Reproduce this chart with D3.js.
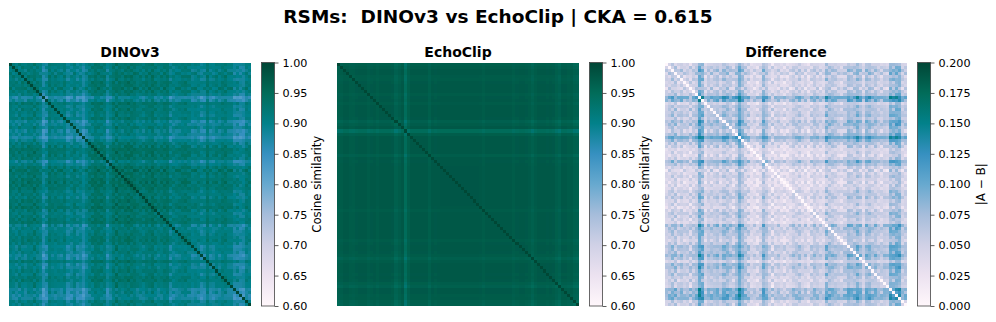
<!DOCTYPE html>
<html><head><meta charset="utf-8">
<script src="https://cdn.jsdelivr.net/npm/d3@7"></script>
<style>html,body{margin:0;padding:0;background:#fff}svg{display:block}
text{font-family:"DejaVu Sans";fill:#000;white-space:pre}</style></head><body>
<svg id="c" width="996" height="322"></svg>
<script>
const figureTitle = "RSMs:  DINOv3 vs EchoClip | CKA = 0.615";
const panelTitles = ["DINOv3","EchoClip","Difference"];
const barLabels = ["Cosine similarity","Cosine similarity","|A − B|"];
const simTicks = [0.60,0.65,0.70,0.75,0.80,0.85,0.90,0.95,1.00];
const diffTicks = [0,0.025,0.05,0.075,0.1,0.125,0.15,0.175,0.2];
// per-item dissimilarity profiles
const dinoProfile = [.275,.305,.305,.29,.27,.3,.275,.27,.26,.275,.325,.42,.375,.27,.29,.305,.29,.305,.29,.375,
.36,.29,.365,.36,.415,.335,.3,.27,.23,.23,.25,.265,.35,.315,.24,.225,.24,.25,.24,.225,
.24,.225,.265,.28,.28,.25,.24,.225,.265,.28,.28,.24,.245,.34,.325,.3,.285,.285,.27,.3,
.33,.305,.33,.375,.345,.27,.33,.345,.305,.305,.275,.285,.305,.305,.395,.36,.415,.395,.305,.335];
const echoProfile = [.2,.18,.155,.155,.175,.18,.165,.155,.155,.155,.18,.165,.155,.175,.155,.155,.155,.155,.165,.23,
.19,.155,.33,.2,.155,.155,.155,.155,.155,.155,.2,.155,.165,.155,.15,.15,.15,.15,.15,.15,
.15,.15,.15,.15,.15,.15,.15,.155,.175,.155,.155,.155,.155,.155,.155,.155,.155,.155,.18,.165,
.155,.155,.165,.175,.22,.175,.155,.155,.155,.165,.155,.165,.2,.23,.165,.165,.18,.175,.22,.23];
// finer item-to-item variation in the DINOv3 panel, estimated by eye
const dinoDetailA = [.08,-.1,.11,-.05,.09,.12,-.08,.04,-.11,.1,-.06,.07,.12,-.09,.05,-.12,.08,.1,-.04,.09,
-.11,.06,.12,-.07,.03,.1,-.12,.08,-.05,.11,.06,-.09,.12,-.03,.09,-.1,.05,.11,-.08,.07,
-.12,.1,.04,-.09,.12,-.06,.08,-.11,.1,.05,-.08,.12,-.04,.09,-.1,.07,.11,-.06,.03,-.12,
.1,.08,-.09,.05,.12,-.07,.11,-.03,-.1,.09,.06,-.12,.08,.1,-.05,.12,-.08,.04,.11,-.09];
const dinoDetailB = [-.06,.09,.05,-.11,.08,-.04,.12,.07,-.09,.03,.1,-.12,.06,.09,-.07,.11,-.03,-.1,.12,.05,
.08,-.11,.04,.1,-.06,-.09,.07,.12,.03,-.08,.11,.06,-.1,.09,.04,-.12,.08,-.05,.1,.12,
.06,-.07,-.11,.09,.03,.1,-.12,.05,.07,-.09,.11,-.06,.08,.12,.04,-.1,-.03,.09,.11,.06,
-.08,-.12,.07,.1,-.05,.09,-.04,.12,.08,-.11,.03,.1,-.07,-.09,.12,.05,.06,-.1,-.04,.08];
const cpStops = ["#fff7fb","#ece2f0","#d0d1e6","#a6bddb","#67a9cf","#3690c0","#02818a","#016c59","#014636"];

const indices = d3.range(dinoProfile.length);
const A = (i,j)=> i===j ? 1 : 1 - dinoProfile[i]*dinoProfile[j]
   - dinoDetailA[i]*dinoDetailA[j] + dinoDetailB[i]*dinoDetailB[j];
const B = (i,j)=> i===j ? 1 : 1 - echoProfile[i]*echoProfile[j];
const panels = [
 {x:9, w:242, val:A, dom:[0.6,1], ticks:simTicks, fmt:d3.format(".2f"), barX:261.5},
 {x:337,w:242, val:B, dom:[0.6,1], ticks:simTicks, fmt:d3.format(".2f"), barX:589.5},
 {x:665,w:242, val:(i,j)=>Math.abs(A(i,j)-B(i,j)), dom:[0,0.2], ticks:diffTicks, fmt:d3.format(".3f"), barX:917.5},
];
const plotTop=62.5, plotBottom=306, barW=13;
const svg=d3.select("#c");
svg.append("text").attr("x",498).attr("y",23).attr("text-anchor","middle")
  .style("font-size","18.5px").style("font-weight","bold").text(figureTitle);
const defs=svg.append("defs");
const f=defs.append("filter").attr("id","soft").attr("x","-1%").attr("y","-1%").attr("width","102%").attr("height","102%");
f.append("feGaussianBlur").attr("stdDeviation",0.65);
panels.forEach((p,k)=>{
  const g=svg.append("g").attr("filter","url(#soft)");
  const xs=d3.scaleBand().domain(indices).range([p.x,p.x+p.w]);
  const ys=d3.scaleBand().domain(indices).range([plotTop,plotBottom]);
  const color=d3.scaleLinear().domain(d3.range(9).map(t=>p.dom[0]+(p.dom[1]-p.dom[0])*t/8)).range(cpStops).clamp(true);
  const cells=indices.flatMap(i=>indices.map(j=>({i,j})));
  g.selectAll("rect").data(cells).join("rect")
    .attr("x",d=>xs(d.j)).attr("y",d=>ys(d.i))
    .attr("width",xs.bandwidth()+.4).attr("height",ys.bandwidth()+.4)
    .attr("shape-rendering","crispEdges")
    .attr("fill",d=>color(p.val(d.i,d.j)));
  svg.append("text").attr("x",p.x+p.w/2).attr("y",56.5).attr("text-anchor","middle")
    .style("font-size","14px").style("font-weight","bold").text(panelTitles[k]);
  const gid="grad"+k;
  const lg=defs.append("linearGradient").attr("id",gid).attr("x1",0).attr("x2",0).attr("y1",1).attr("y2",0);
  cpStops.forEach((c,t)=>lg.append("stop").attr("offset",t/8).attr("stop-color",c));
  svg.append("rect").attr("x",p.barX).attr("y",plotTop).attr("width",barW).attr("height",plotBottom-plotTop)
    .attr("fill",`url(#${gid})`).attr("stroke","#444").attr("stroke-width",.8);
  const sc=d3.scaleLinear().domain(p.dom).range([plotBottom,plotTop]);
  const ax=svg.append("g").attr("transform",`translate(${p.barX+barW},0)`)
    .call(d3.axisRight(sc).tickValues(p.ticks).tickFormat(p.fmt).tickSize(4).tickPadding(4));
  ax.select(".domain").remove();
  ax.selectAll("line").attr("stroke","#333").attr("stroke-width",.8);
  ax.selectAll("text").style("font-size","11.2px").style("font-family",'"DejaVu Sans"').attr("fill","#000");
  const lx=k===2?p.barX+barW+54.5:p.barX+barW+46;
  svg.append("text").attr("transform",`translate(${lx},${(plotTop+plotBottom)/2}) rotate(-90)`)
    .attr("text-anchor","middle").style("font-size",k===2?"12px":"11.7px").text(barLabels[k]);
});
</script></body></html>
